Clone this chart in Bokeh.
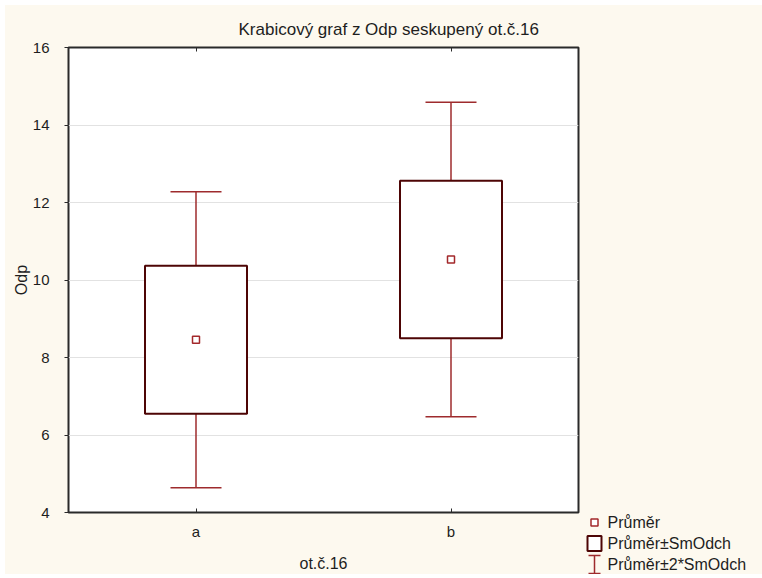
from bokeh.plotting import figure
from bokeh.layouts import row
from bokeh.models import Range1d, FixedTicker, LinearAxis, ColumnDataSource
from bokeh.core.properties import value
from bokeh.embed import file_html
from bokeh.resources import INLINE

# Group statistics: mean and standard deviation of Odp per group of ot.č.16
categories = ["a", "b"]
means = [8.46, 10.53]
sds = [1.91, 2.03]

y_ticks = [4, 6, 8, 10, 12, 14, 16]
legend_labels = ["Průměr", "Průměr±SmOdch", "Průměr±2*SmOdch"]

FONT = "Liberation Sans"
BG = "#fdf9ef"
BOX_COL = "#4d0505"
WHISK_COL = "#9e2b2d"
MEAN_COL = "#a3282b"
TXT = "#1e1e1e"

xs = [i + 1 for i in range(len(categories))]
src = ColumnDataSource(dict(
    x=xs,
    mean=means,
    lo1=[m - s for m, s in zip(means, sds)],
    hi1=[m + s for m, s in zip(means, sds)],
    lo2=[m - 2 * s for m, s in zip(means, sds)],
    hi2=[m + 2 * s for m, s in zip(means, sds)],
    cap_l=[x - 0.1 for x in xs],
    cap_r=[x + 0.1 for x in xs],
))

H = 569
p = figure(width=575, height=H, output_backend="svg", toolbar_location=None,
           x_range=Range1d(0.5, len(categories) + 0.5), y_range=Range1d(4, 16),
           min_border_left=63, min_border_right=2, min_border_top=42,
           min_border_bottom=60)
p.frame_align = False
p.background_fill_color = "white"
p.border_fill_color = BG
p.outline_line_color = "#2a2a2a"
p.outline_line_width = 2

p.title.text = "Krabicový graf z Odp seskupený ot.č.16"
p.title.align = "left"
p.title.offset = 170
p.title.text_font = FONT
p.title.text_font_size = "17px"
p.title.text_font_style = "normal"
p.title.text_color = TXT
p.title.standoff = 18

# grid: horizontal only
p.xgrid.visible = False
p.ygrid.grid_line_color = "#e2e2e2"
p.ygrid.grid_line_width = 1

# axes
xa = p.xaxis[0]
xa.ticker = FixedTicker(ticks=xs)
xa.major_label_overrides = {x: c for x, c in zip(xs, categories)}
xa.major_tick_in = 4
xa.major_tick_out = 0
xa.minor_tick_line_color = None
xa.axis_line_color = None
xa.major_tick_line_color = "#2a2a2a"
xa.major_label_text_font = FONT
xa.major_label_text_font_size = "15px"
xa.major_label_text_color = TXT
xa.major_label_standoff = 10
xa.axis_label = "ot.č.16"
xa.axis_label_text_font = FONT
xa.axis_label_text_font_size = "16px"
xa.axis_label_text_font_style = "normal"
xa.axis_label_text_color = TXT
xa.axis_label_standoff = 12

ya = p.yaxis[0]
ya.ticker = FixedTicker(ticks=y_ticks)
ya.major_tick_in = 0
ya.major_tick_out = 4
ya.minor_tick_line_color = None
ya.axis_line_color = None
ya.major_tick_line_color = "#2a2a2a"
ya.major_label_text_font = FONT
ya.major_label_text_font_size = "15px"
ya.major_label_text_color = TXT
ya.major_label_standoff = 15
ya.axis_label = "Odp"
ya.axis_label_text_font = FONT
ya.axis_label_text_font_size = "16px"
ya.axis_label_text_font_style = "normal"
ya.axis_label_text_color = TXT
ya.axis_label_standoff = 0
p.ygrid.ticker = ya.ticker

top = LinearAxis(ticker=FixedTicker(ticks=xs), major_tick_in=4, major_tick_out=0,
                 minor_tick_line_color=None, axis_line_color=None,
                 major_tick_line_color="#2a2a2a", major_label_text_font_size="0px",
                 major_label_text_alpha=0, major_label_standoff=0)
p.add_layout(top, "above")

# whiskers (mean ± 2 SD)
p.segment(x0="x", y0="lo2", x1="x", y1="hi2", source=src,
          line_color=WHISK_COL, line_width=1.5)
p.segment(x0="cap_l", y0="hi2", x1="cap_r", y1="hi2", source=src,
          line_color=WHISK_COL, line_width=1.5)
p.segment(x0="cap_l", y0="lo2", x1="cap_r", y1="lo2", source=src,
          line_color=WHISK_COL, line_width=1.5)

# boxes (mean ± SD)
p.vbar(x="x", width=0.4, bottom="lo1", top="hi1", source=src,
       fill_color="white", line_color=BOX_COL, line_width=2)

# means
p.scatter(x="x", y="mean", source=src, marker="square", size=7,
          fill_color="white", line_color=MEAN_COL, line_width=1.5)

# key panel to the right of the chart, in pixel coordinates (y grows downward)
LW = 182
q = figure(width=LW, height=H, output_backend="svg", toolbar_location=None,
           x_range=Range1d(0, LW), y_range=Range1d(H, 0),
           x_axis_type=None, y_axis_type=None, min_border=0)
q.frame_align = False
q.background_fill_color = BG
q.border_fill_color = BG
q.outline_line_color = None
q.grid.visible = False

row0, pitch = 517, 21
rows = [row0 + i * pitch for i in range(len(legend_labels))]
icon_x = 14
half = 7

# mean symbol
q.scatter(x=[icon_x], y=[rows[0]], marker="square", size=7,
          fill_color="white", line_color=MEAN_COL, line_width=1.5)
# ±SD box symbol
q.quad(left=[icon_x - half], right=[icon_x + half],
       top=[rows[1] - half - 0.5], bottom=[rows[1] + half + 0.5],
       fill_color="white", line_color=BOX_COL, line_width=2)
# ±2SD whisker symbol
wt, wb = rows[2] - 9, rows[2] + 9
q.segment(x0=[icon_x, icon_x - 6, icon_x - 6], y0=[wt, wt, wb],
          x1=[icon_x, icon_x + 6, icon_x + 6], y1=[wb, wt, wb],
          line_color=WHISK_COL, line_width=1.5)
q.text(x=[27] * len(rows), y=rows, text=legend_labels,
       text_font=value(FONT), text_font_size=value("16px"),
       text_color=TXT, text_align="left", text_baseline="middle")

layout = row(p, q, margin=(5, 0, 0, 5), styles={"background-color": BG})
open("out.html", "w").write(file_html(layout, INLINE))
